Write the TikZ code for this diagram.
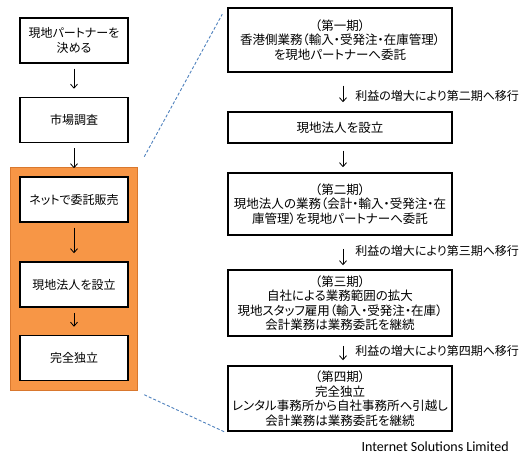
\documentclass[tikz,border=0pt]{standalone}
\usepackage{fontspec}
\setmainfont[RawFeature=+palt]{Noto Sans CJK JP}
\newfontfamily\latinfont{Carlito}
\usetikzlibrary{calc, arrows.meta, positioning, fit, backgrounds}
\definecolor{zoneorange}{HTML}{F79646}
\definecolor{zoneedge}{HTML}{D9782E}
\definecolor{linkblue}{HTML}{4F81BD}

\begin{document}
\begin{tikzpicture}[
        x=1pt, y=-1pt,
        stepbox/.style = {draw, rectangle, line width=1.5pt, align=center, inner sep=2pt, fill=white, font=\fontsize{12}{14.5}\selectfont},
        leftbox/.style = {stepbox, minimum width=108pt, minimum height=45pt},
        phasebox/.style = {stepbox, minimum width=224pt, font=\fontsize{12.5}{14.5}\selectfont},
        arrow/.style = {draw=black, line width=0.8pt, -{Straight Barb[length=4pt, width=7pt]}, shorten <=5pt, shorten >=8pt},
        note/.style = {font=\fontsize{12}{14}\selectfont, anchor=west, inner sep=0pt},
        link/.style = {draw=linkblue, line width=0.9pt, dash pattern=on 3pt off 2pt}
    ]
        \useasboundingbox (0,0) rectangle (532,454);

        % Left flow
        \node (partner) [leftbox] at (74,40.5) {現地パートナーを\\決める};
        \node (survey)  [leftbox] at (74,120) {市場調査};
        \node (online)  [leftbox] at (74,199.5) {ネットで委託販売};
        \node (corp)    [leftbox] at (74,284.5) {現地法人を設立};
        \node (indep)   [leftbox] at (74,358) {完全独立};

        % Orange zone
        \begin{scope}[on background layer]
            \node (zone) [fit=(online)(indep), inner sep=9pt, fill=zoneorange, draw=zoneedge, line width=1pt] {};
        \end{scope}

        % Right flow (phases)
        \node (phase1) [phasebox, minimum height=64pt] at (340,40) {（第一期）\\香港側業務（輸入・受発注・在庫管理）\\を現地パートナーへ委託};
        \node (setup)  [phasebox, minimum height=31pt] at (340,127.5) {現地法人を設立};
        \node (phase2) [phasebox, minimum height=62pt] at (340,204) {（第二期）\\現地法人の業務（会計・輸入・受発注・在\\庫管理）を現地パートナーへ委託};
        \node (phase3) [phasebox, minimum height=66pt] at (340,303) {（第三期）\\自社による業務範囲の拡大\\現地スタッフ雇用（輸入・受発注・在庫）\\会計業務は業務委託を継続};
        \node (phase4) [phasebox, minimum height=65pt] at (340,398.5) {（第四期）\\完全独立\\レンタル事務所から自社事務所へ引越し\\会計業務は業務委託を継続};

        % Credit
        \node (credit) [anchor=east, inner sep=0pt, font=\latinfont\fontsize{14}{16}\selectfont] at (509,447) {Internet Solutions Limited};

        % Arrows (left)
        \draw [arrow] (partner) -- (survey);
        \draw [arrow] (survey) -- (online);
        \draw [arrow] (online) -- (corp);
        \draw [arrow] (corp) -- (indep);

        % Arrows (right)
        \draw [arrow, shorten <=13pt, shorten >=9pt] ([xshift=3pt]phase1.south) -- node[note, pos=0.6, xshift=12pt] {利益の増大により第二期へ移行} ([xshift=3pt]setup.north);
        \draw [arrow, shorten <=7pt, shorten >=5pt] ([xshift=3pt]setup.south) -- ([xshift=3pt]phase2.north);
        \draw [arrow, shorten <=13pt, shorten >=4pt] ([xshift=3pt]phase2.south) -- node[note, pos=0.45, xshift=12pt] {利益の増大により第三期へ移行} ([xshift=3pt]phase3.north);
        \draw [arrow, shorten <=9pt, shorten >=5pt] ([xshift=3pt]phase3.south) -- node[note, pos=0.5, xshift=12pt] {利益の増大により第四期へ移行} ([xshift=3pt]phase4.north);

        % Zoom links
        \coordinate (zt) at ($(zone.north east)+(6,-10)$);
        \coordinate (zb) at ($(zone.south east)+(6,4)$);
        \draw [link] (zt) -- ($(phase1.north west)+(-5,7)$);
        \draw [link] (zb) -- ($(phase4.south west)+(-3,0)$);
    \end{tikzpicture}
\end{document}
